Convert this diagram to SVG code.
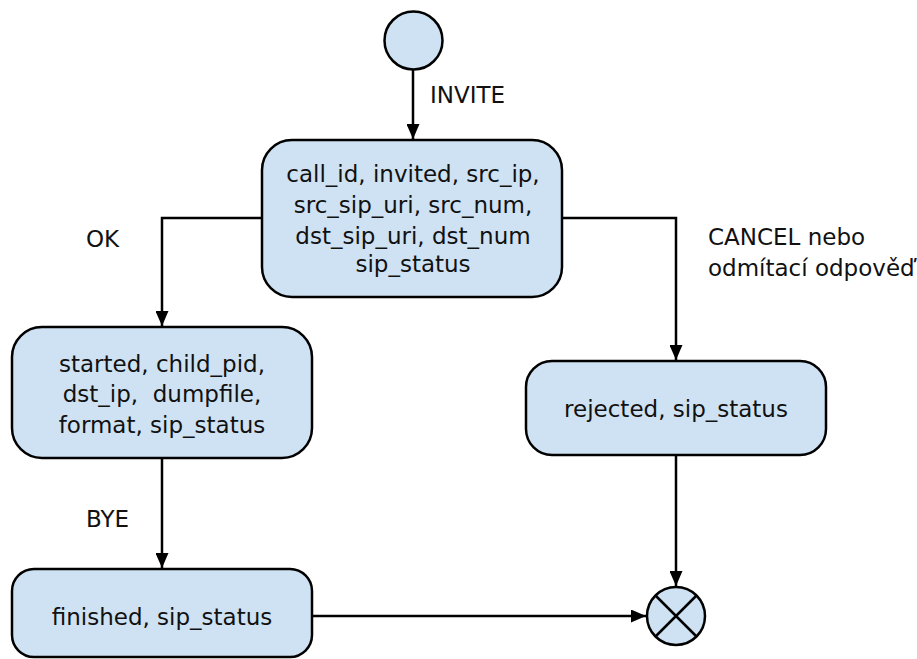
<svg xmlns="http://www.w3.org/2000/svg" width="917" height="659" viewBox="0 0 917 659">
  <defs>
    <marker id="arrow" viewBox="0 0 15 13" refX="15" refY="6.5" markerWidth="15" markerHeight="13" markerUnits="userSpaceOnUse" orient="auto">
      <path d="M0,0 L15,6.5 L0,13 z" fill="#000"/>
    </marker>
    <style>
      .state { fill: #cfe2f3; stroke: #000; stroke-width: 2.5; }
      .label { font-family: "DejaVu Sans", sans-serif; font-size: 23px; fill: #111; white-space: pre; }
      .mid { text-anchor: middle; }
      .edge { fill: none; stroke: #000; stroke-width: 2.5; }
    </style>
  </defs>
  <rect width="917" height="659" fill="#fff"/>

  <!-- transitions -->
  <g id="connectors">
    <path class="edge" d="M413,70 V139" marker-end="url(#arrow)"/>
    <path class="edge" d="M262,218 H162 V326" marker-end="url(#arrow)"/>
    <path class="edge" d="M562,218 H676 V360" marker-end="url(#arrow)"/>
    <path class="edge" d="M162,458 V568" marker-end="url(#arrow)"/>
    <path class="edge" d="M676,455 V586" marker-end="url(#arrow)"/>
    <path class="edge" d="M312,616 H646" marker-end="url(#arrow)"/>
  </g>

  <!-- transition labels -->
  <g id="edge-labels" class="label">
    <text x="430" y="103">INVITE</text>
    <text x="86" y="247">OK</text>
    <text x="86" y="527">BYE</text>
    <text x="708" y="245">CANCEL nebo</text>
    <text x="708" y="276">odmítací odpověď</text>
  </g>

  <g id="start">
    <circle class="state" cx="413.5" cy="40.5" r="29"/>
  </g>

  <g id="call">
    <rect class="state" x="262" y="140" width="300" height="157" rx="30" ry="30"/>
    <text class="label mid" x="413" y="182">call_id, invited, src_ip,</text>
    <text class="label mid" x="413" y="213">src_sip_uri, src_num,</text>
    <text class="label mid" x="413" y="244">dst_sip_uri, dst_num</text>
    <text class="label mid" x="413" y="272">sip_status</text>
  </g>

  <g id="started">
    <rect class="state" x="12" y="327" width="300" height="131" rx="30" ry="30"/>
    <text class="label mid" x="162" y="372">started, child_pid,</text>
    <text class="label mid" x="162" y="402" xml:space="preserve">dst_ip,  dumpfile,</text>
    <text class="label mid" x="162" y="433">format, sip_status</text>
  </g>

  <g id="rejected">
    <rect class="state" x="526" y="361" width="300" height="94" rx="26" ry="26"/>
    <text class="label mid" x="676" y="417">rejected, sip_status</text>
  </g>

  <g id="finished">
    <rect class="state" x="12" y="569" width="300" height="88" rx="22" ry="22"/>
    <text class="label mid" x="162" y="625">finished, sip_status</text>
  </g>

  <g id="end">
    <circle class="state" cx="676" cy="616" r="29"/>
    <path class="edge" d="M655.5,595.5 L696.5,636.5 M696.5,595.5 L655.5,636.5"/>
  </g>
</svg>
